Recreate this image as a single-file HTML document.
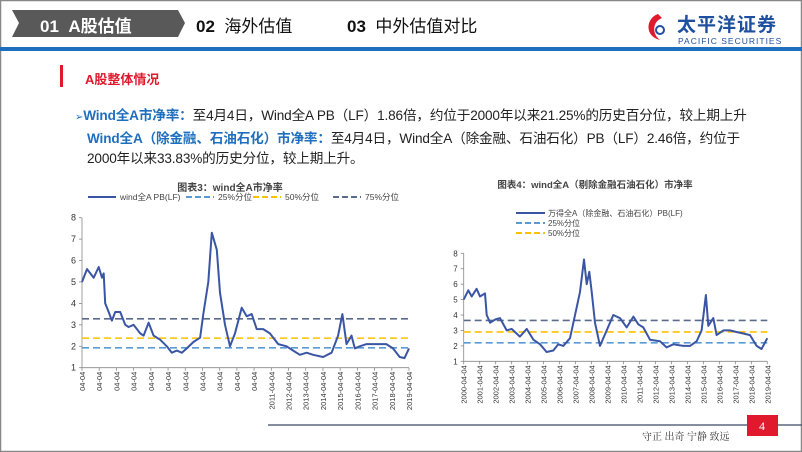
<!DOCTYPE html>
<html><head><meta charset="utf-8">
<style>
body{margin:0;width:802px;height:452px;overflow:hidden;background:#fff;font-family:"Liberation Sans","Noto Sans CJK SC",sans-serif;}
.abs{position:absolute;white-space:nowrap;}
.b{color:#1f6fbf;font-weight:bold;}
</style></head>
<body>
<div style="position:relative;width:802px;height:452px;">
<svg width="802" height="452" style="position:absolute;left:0;top:0">
  <rect x="0.5" y="0.5" width="801" height="451" fill="none" stroke="#888" stroke-width="1.5"/>
  <polygon points="12,10 178,10 185,23 178,37 12,37 19,23" fill="#595959"/>
  <rect x="0" y="47" width="802" height="4" fill="#1f6fbf"/>
  <rect x="60" y="65" width="3" height="22" fill="#e0192d"/>
  <line x1="268" y1="425" x2="802" y2="425" stroke="#3c4a66" stroke-width="1.2"/>
  <rect x="747" y="415" width="31" height="21" fill="#e0192d"/>
  <text x="762" y="430" fill="#fff" font-size="12" text-anchor="middle" font-family="Liberation Serif,serif">4</text>
  <g>
    <path d="M658,14 C646,18 644,36 660,40 C652,34 652,22 662,18 Z" fill="#e0192d"/>
    <circle cx="660" cy="30" r="4" fill="none" stroke="#1f4f9f" stroke-width="2"/>
  </g>
</svg>
<div class="abs" style="left:40px;top:12px;font-size:17px;color:#fff;font-weight:bold">01&nbsp;&nbsp;A股估值</div>
<div class="abs" style="left:196px;top:12px;font-size:17px;color:#111"><b>02</b>&nbsp;&nbsp;海外估值</div>
<div class="abs" style="left:347px;top:12px;font-size:17px;color:#111"><b>03</b>&nbsp;&nbsp;中外估值对比</div>
<div class="abs" style="left:677px;top:10px;font-size:19px;color:#1f4f9f;font-weight:bold;letter-spacing:1px">太平洋证券</div>
<div class="abs" style="left:678px;top:36px;font-size:8.5px;color:#1f4f9f;letter-spacing:1px">PACIFIC SECURITIES</div>
<div class="abs" style="left:85px;top:69px;font-size:13px;color:#e0192d;font-weight:bold">A股整体情况</div>
<div class="abs" style="left:75px;top:106px;font-size:13.6px;color:#222;line-height:20.5px;letter-spacing:-0.15px">
<span style="color:#1f6fbf;font-size:10px">➢</span><span class="b">Wind全A市净率：</span>至4月4日，Wind全A PB（LF）1.86倍，约位于2000年以来21.25%的历史百分位，较上期上升<br>
<span style="padding-left:12px" class="b">Wind全A（除金融、石油石化）市净率：</span>至4月4日，Wind全A（除金融、石油石化）PB（LF）2.46倍，约位于<br>
<span style="padding-left:12px">2000年以来33.83%的历史分位，较上期上升。</span></div>
<div class="abs" style="left:642px;top:428px;font-size:10px;color:#333;font-family:'Liberation Serif','Noto Serif CJK SC',serif">守正 出奇 宁静 致远</div>

<svg id="c1" width="802" height="452" style="position:absolute;left:0;top:0"></svg>
<svg id="c2" width="802" height="452" style="position:absolute;left:0;top:0"></svg>
</div>
<script>
const years1=[2000.25,2000.54,2000.93,2001.22,2001.41,2001.51,2001.60,2001.80,2001.99,2002.18,2002.47,2002.76,2002.96,2003.25,2003.63,2003.83,2004.12,2004.41,2004.80,2005.18,2005.47,2005.76,2006.05,2006.34,2006.72,2007.11,2007.30,2007.59,2007.79,2008.08,2008.27,2008.56,2008.85,2009.14,2009.53,2009.82,2010.11,2010.40,2010.78,2011.17,2011.65,2012.14,2012.52,2012.91,2013.30,2013.68,2014.26,2014.75,2015.13,2015.38,2015.62,2015.91,2016.10,2016.39,2016.78,2017.16,2017.55,2017.93,2018.32,2018.71,2018.99,2019.25];
const pb1=[5.0,5.6,5.2,5.7,5.2,5.4,4.0,3.6,3.2,3.6,3.6,3.0,2.9,3.0,2.6,2.5,3.1,2.5,2.3,2.0,1.7,1.8,1.7,1.9,2.2,2.4,3.5,5.0,7.3,6.5,4.5,3.0,2.0,2.6,3.8,3.4,3.5,2.8,2.8,2.6,2.1,2.0,1.8,1.6,1.7,1.6,1.5,1.7,2.5,3.5,2.1,2.5,1.9,2.0,2.1,2.1,2.1,2.1,1.9,1.5,1.45,1.9];
const pct1=[1.93,2.38,3.28];
const years2=[2000.25,2000.54,2000.75,2001.06,2001.27,2001.58,2001.69,2001.90,2002.21,2002.52,2002.94,2003.25,2003.77,2004.19,2004.61,2005.03,2005.44,2005.86,2006.17,2006.49,2006.90,2007.32,2007.53,2007.78,2007.95,2008.11,2008.26,2008.47,2008.78,2009.20,2009.61,2010.03,2010.45,2010.87,2011.18,2011.49,2011.91,2012.53,2012.95,2013.37,2013.99,2014.41,2014.83,2015.14,2015.41,2015.56,2015.87,2016.08,2016.50,2016.91,2017.33,2017.75,2018.17,2018.58,2018.89,2019.25];
const pb2=[5.0,5.6,5.2,5.7,5.2,5.4,4.0,3.5,3.7,3.8,3.0,3.1,2.6,3.1,2.4,2.1,1.6,1.7,2.1,2.0,2.5,4.5,5.5,7.6,6.0,6.8,5.5,3.5,2.0,3.0,4.0,3.8,3.2,3.9,3.4,3.2,2.4,2.3,1.9,2.1,2.0,2.0,2.3,3.0,5.3,3.3,3.8,2.7,3.0,3.0,2.9,2.8,2.7,2.0,1.8,2.5];
const pct2=[2.2,2.9,3.65];
const yTicks=[1,2,3,4,5,6,7,8];
const xTickYears=[2000,2001,2002,2003,2004,2005,2006,2007,2008,2009,2010,2011,2012,2013,2014,2015,2016,2017,2018,2019];

const NS="http://www.w3.org/2000/svg";
function el(svg,tag,attrs,txt){const e=document.createElementNS(NS,tag);for(const k in attrs)e.setAttribute(k,attrs[k]);if(txt!==undefined)e.textContent=txt;svg.appendChild(e);return e;}
const pctColors=["#5b9bd5","#ffc000","#5a6b8c"];
function draw(svg,cfg,years,vals,pct){
  const X=y=>cfg.x0+(y-2000.25)/19*(cfg.x1-cfg.x0);
  const Y=v=>cfg.y1-(v-1)/7*(cfg.y1-cfg.y0);
  const ax=el(svg,'line',{x1:cfg.x0,y1:cfg.y0,x2:cfg.x0,y2:cfg.y1,stroke:'#888','stroke-width':0.8});
  
  const bx=el(svg,'line',{x1:cfg.x0,y1:cfg.y1,x2:cfg.x1,y2:cfg.y1,stroke:'#888','stroke-width':0.8});
  
  yTicks.forEach(t=>{const e=el(svg,'text',{x:cfg.x0-6,y:Y(t)+3,'font-size':cfg.fs,'text-anchor':'end',fill:'#333'},t);
    
    el(svg,'line',{x1:cfg.x0-3,x2:cfg.x0,y1:Y(t),y2:Y(t),stroke:'#888','stroke-width':0.8});});
  xTickYears.forEach(yr=>{const x=X(yr+0.25);
    el(svg,'line',{x1:x,x2:x,y1:cfg.y1,y2:cfg.y1+3,stroke:'#888','stroke-width':0.8});
    const lbl=(cfg.clip&&yr<2011)?'04-04':yr+'-04-04';
    const e=el(svg,'text',{x:0,y:0,'font-size':7.5,'text-anchor':'end',fill:'#333',transform:`translate(${x+3},${cfg.y1+4}) rotate(-90)`},lbl);
    });
  pct.forEach((p,i)=>{const e=el(svg,'line',{x1:cfg.x0,x2:cfg.x1,y1:Y(p),y2:Y(p),stroke:pctColors[i],'stroke-width':1.6,'stroke-dasharray':'7,4'});
    });
  const pts=years.map((y,i)=>X(y).toFixed(1)+','+Y(vals[i]).toFixed(1)).join(' ');
  const pl=el(svg,'polyline',{points:pts,fill:'none',stroke:'#3a55a4','stroke-width':2,'stroke-linejoin':'round'});
  
}
const s1=document.getElementById('c1'),s2=document.getElementById('c2');
draw(s1,{x0:82,x1:409,y0:217.7,y1:367.7,fs:9,clip:true},years1,pb1,pct1);
draw(s2,{x0:463.7,x1:767.3,y0:253.3,y1:361.3,fs:8,clip:false},years2,pb2,pct2);
let t=el(s1,'text',{x:230,y:191,'font-size':10,'font-weight':'bold','text-anchor':'middle',fill:'#444'},'图表3：wind全A市净率');

const lg1=[[88,'wind全A PB(LF)','#3a55a4',null],[186,'25%分位','#5b9bd5','6,3'],[253,'50%分位','#ffc000','6,3'],[333,'75%分位','#5a6b8c','6,3']];
lg1.forEach(l=>{const ln=el(s1,'line',{x1:l[0],x2:l[0]+28,y1:197,y2:197,stroke:l[2],'stroke-width':2,'stroke-dasharray':l[3]||'none'});
  
  const tx=el(s1,'text',{x:l[0]+32,y:200,'font-size':8.5,fill:'#444'},l[1]);
  });
t=el(s2,'text',{x:595,y:188,'font-size':9.5,'font-weight':'bold','text-anchor':'middle',fill:'#444'},'图表4：wind全A（剔除金融石油石化）市净率');

const lg2=[[216,'万得全A（除金融、石油石化）PB(LF)','#3a55a4',null],[226,'25%分位','#5b9bd5','6,3'],[236,'50%分位','#ffc000','6,3']];
lg2.forEach(l=>{const ln=el(s2,'line',{x1:516,x2:545,y1:l[0]-3,y2:l[0]-3,stroke:l[2],'stroke-width':2,'stroke-dasharray':l[3]||'none'});
  
  const tx=el(s2,'text',{x:548,y:l[0],'font-size':8,fill:'#444'},l[1]);
  });
</script>
</body></html>
